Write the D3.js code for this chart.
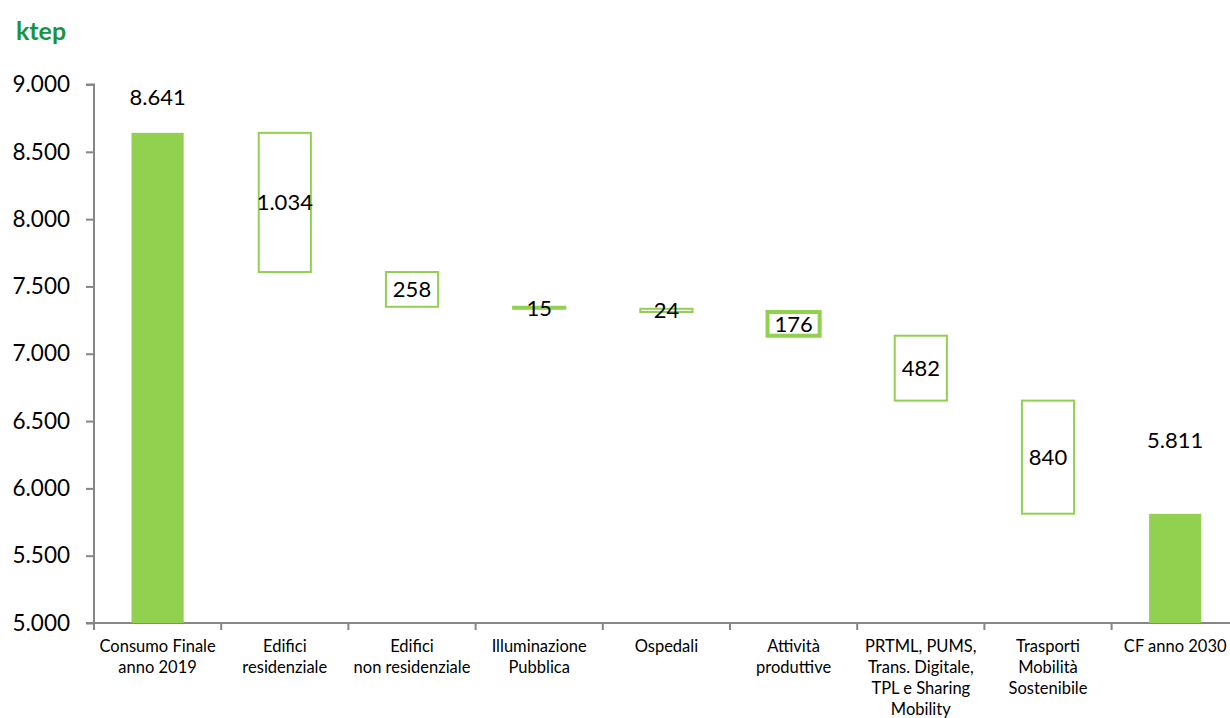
<!DOCTYPE html>
<html><head><meta charset="utf-8">
<script src="https://cdn.jsdelivr.net/npm/d3@7"></script>
<style>
body{margin:0;background:#fff;}
svg{display:block;font-family:"Gill Sans","Gill Sans MT",Lato,"Open Sans",sans-serif;}
</style></head><body>
<svg id="c" width="1230" height="718"></svg>
<script>
const categories = [
  ["Consumo Finale","anno 2019"],
  ["Edifici","residenziale"],
  ["Edifici","non residenziale"],
  ["Illuminazione","Pubblica"],
  ["Ospedali"],
  ["Attività","produttive"],
  ["PRTML, PUMS,","Trans. Digitale,","TPL e Sharing","Mobility"],
  ["Trasporti","Mobilità","Sostenibile"],
  ["CF anno 2030"]
];
const kinds = ["total","delta","delta","delta","delta","delta","delta","delta","total"];
const values = [8641, 1034, 258, 15, 24, 176, 482, 840, 5811];
const yTicks = [5000,5500,6000,6500,7000,7500,8000,8500,9000];

const svg = d3.select("#c");
const green = "#92D050", axisCol = "#868686";
const x = d3.scaleBand().domain(d3.range(categories.length)).range([94, 94+9*127.2]).paddingInner(0.59).paddingOuter(0.295);
const y = d3.scaleLinear().domain([5000,9000]).range([623,84.5]);
const fmt = v => d3.format(",")(v).replace(/,/g,".");

let level = 0;
const segs = values.map((v,i)=>{
  if(kinds[i]==="total"){ level = v; return {i, lo:5000, hi:v, v, kind:"total"}; }
  const hi = level, lo = level - v; level = lo;
  return {i, lo, hi, v, kind:"delta"};
});

const ya = svg.append("g").attr("transform","translate(94,0)")
  .call(d3.axisLeft(y).tickValues(yTicks).tickFormat(fmt).tickSize(8).tickPadding(16));
ya.select(".domain").attr("stroke",axisCol).attr("stroke-width",2).attr("d","M-8,84.5H0V623");
ya.selectAll(".tick line").attr("stroke",axisCol).attr("stroke-width",2);
ya.selectAll(".tick text").attr("font-size",22.5).attr("fill","#000").attr("font-family",'"Gill Sans","Gill Sans MT",Lato,sans-serif');

const xa = svg.append("g").attr("transform","translate(0,623)");
xa.append("line").attr("x1",86).attr("x2",1240).attr("stroke",axisCol).attr("stroke-width",2);
const step = x.step();
d3.range(categories.length+1).forEach(k=>{
  const xx = 94 + k*step;
  xa.append("line").attr("x1",xx).attr("x2",xx).attr("y1",0).attr("y2",7).attr("stroke",axisCol).attr("stroke-width",2);
});

const thick = {5:4};
segs.forEach(s=>{
  const bx = x(s.i), bw = x.bandwidth();
  if(s.kind==="total"){
    svg.append("rect").attr("x",bx).attr("y",y(s.hi)).attr("width",bw).attr("height",y(s.lo)-y(s.hi)).attr("fill",green);
  } else {
    svg.append("rect").attr("x",bx).attr("y",y(s.hi)).attr("width",bw).attr("height",Math.max(0.5,y(s.lo)-y(s.hi)))
      .attr("fill","#fff").attr("stroke",green).attr("stroke-width",thick[s.i]||2);
  }
});

segs.forEach(s=>{
  const cx = x(s.i)+x.bandwidth()/2;
  let cy;
  if(s.kind==="total") cy = s.i===0 ? y(s.hi)-36 : y(s.hi)-74;
  else cy = (y(s.hi)+y(s.lo))/2;
  svg.append("text").attr("x",cx).attr("y",cy).attr("dy","0.36em").attr("text-anchor","middle")
    .attr("font-size",22).attr("fill","#000").text(fmt(s.v));
});

categories.forEach((lines,i)=>{
  const t = svg.append("text").attr("text-anchor","middle").attr("font-size",16.5).attr("fill","#000");
  lines.forEach((ln,j)=>{
    t.append("tspan").attr("x",x(i)+x.bandwidth()/2).attr("y",652+j*21).text(ln);
  });
});

svg.append("text").attr("x",16).attr("y",40).attr("font-size",25).attr("font-weight","bold").attr("fill","#18943F").text("ktep");
</script>
</body></html>
